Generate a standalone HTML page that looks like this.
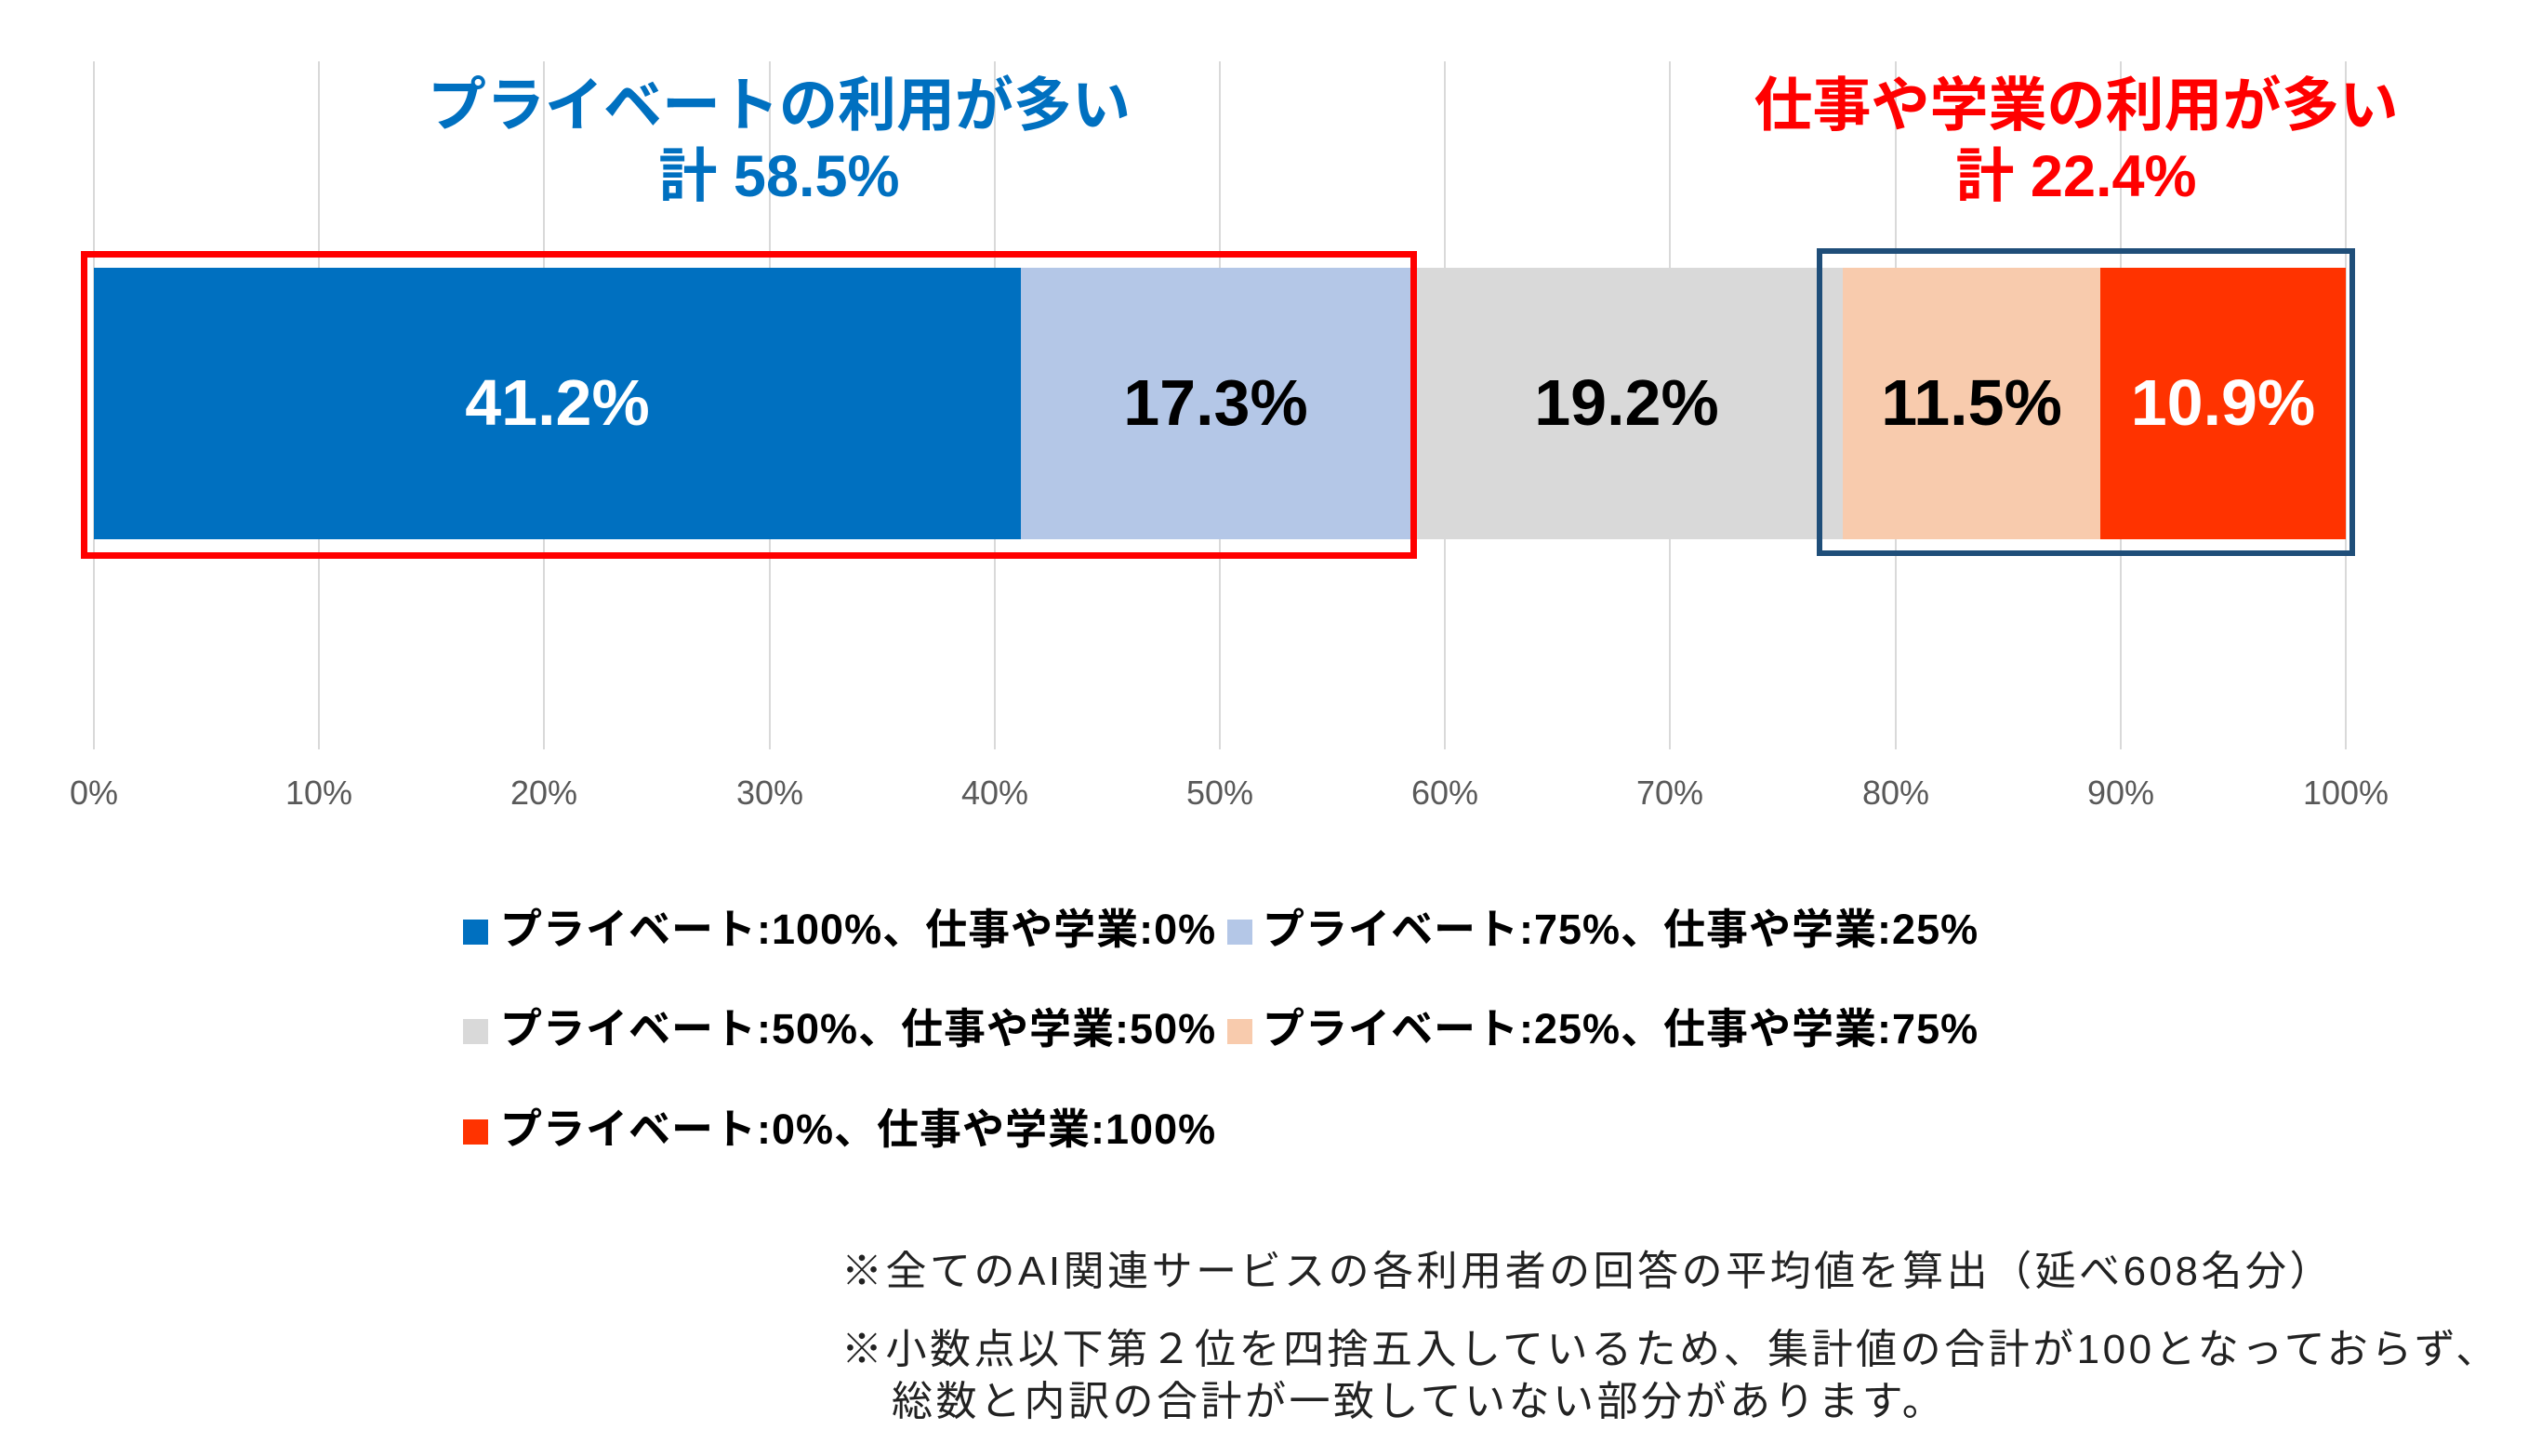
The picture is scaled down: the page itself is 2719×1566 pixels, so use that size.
<!DOCTYPE html>
<html><head><meta charset="utf-8"><style>
body{margin:0;width:2719px;height:1566px;background:#fff;position:relative;overflow:hidden;font-family:"Liberation Sans","Noto Sans CJK JP",sans-serif}
div{position:absolute}
.g{top:66px;height:740px;width:2px;background:#d9d9d9}
.t{top:832px;width:120px;margin-left:-60px;text-align:center;font-size:36px;color:#595959}
.seg{top:288px;height:292px}
.lab{top:388px;font-size:70px;font-weight:bold;text-align:center;line-height:90px}
.lg{font-size:45px;font-weight:bold;line-height:50px;white-space:nowrap;letter-spacing:1px}
.sq{width:27px;height:27px}
.fn{font-size:44px;line-height:50px;white-space:nowrap;color:#222;letter-spacing:3.5px}
</style></head><body>
<div class="g" style="left:100px"></div><div class="g" style="left:342px"></div><div class="g" style="left:584px"></div><div class="g" style="left:827px"></div><div class="g" style="left:1069px"></div><div class="g" style="left:1311px"></div><div class="g" style="left:1553px"></div><div class="g" style="left:1795px"></div><div class="g" style="left:2038px"></div><div class="g" style="left:2280px"></div><div class="g" style="left:2522px"></div>
<div class="t" style="left:101px">0%</div><div class="t" style="left:343px">10%</div><div class="t" style="left:585px">20%</div><div class="t" style="left:828px">30%</div><div class="t" style="left:1070px">40%</div><div class="t" style="left:1312px">50%</div><div class="t" style="left:1554px">60%</div><div class="t" style="left:1796px">70%</div><div class="t" style="left:2039px">80%</div><div class="t" style="left:2281px">90%</div><div class="t" style="left:2523px">100%</div>
<div class="seg" style="left:101px;width:997px;background:#0070C0"></div>
<div class="seg" style="left:1098px;width:419px;background:#B4C7E7"></div>
<div class="seg" style="left:1517px;width:465px;background:#D9D9D9"></div>
<div class="seg" style="left:1982px;width:277px;background:#F8CBAD"></div>
<div class="seg" style="left:2259px;width:264px;background:#FF3300"></div>
<div class="lab" style="left:101px;width:997px;color:#fff">41.2%</div>
<div class="lab" style="left:1098px;width:419px;color:#000">17.3%</div>
<div class="lab" style="left:1517px;width:465px;color:#000">19.2%</div>
<div class="lab" style="left:1982px;width:277px;color:#000">11.5%</div>
<div class="lab" style="left:2259px;width:264px;color:#fff">10.9%</div>
<div style="left:87px;top:270px;width:1423px;height:317px;border:7px solid #FF0000"></div>
<div style="left:1954px;top:267px;width:567px;height:319px;border:6px solid #1F4E79"></div>
<div style="left:338px;width:1000px;top:76px;text-align:center;color:#0070C0;font-size:63px;font-weight:bold;line-height:76px">プライベートの利用が多い<br>計 58.5%</div>
<div style="left:1733px;width:1000px;top:76px;text-align:center;color:#FF0000;font-size:63px;font-weight:bold;line-height:76px">仕事や学業の利用が多い<br>計 22.4%</div>
<div class="sq" style="left:498px;top:989px;background:#0070C0"></div><div class="lg" style="left:538px;top:975px">プライベート:100%、仕事や学業:0%</div>
<div class="sq" style="left:1320px;top:989px;background:#B4C7E7"></div><div class="lg" style="left:1358px;top:975px">プライベート:75%、仕事や学業:25%</div>
<div class="sq" style="left:498px;top:1096px;background:#D9D9D9"></div><div class="lg" style="left:538px;top:1082px">プライベート:50%、仕事や学業:50%</div>
<div class="sq" style="left:1320px;top:1096px;background:#F8CBAD"></div><div class="lg" style="left:1358px;top:1082px">プライベート:25%、仕事や学業:75%</div>
<div class="sq" style="left:498px;top:1204px;background:#FF3300"></div><div class="lg" style="left:538px;top:1190px">プライベート:0%、仕事や学業:100%</div>
<div class="fn" style="left:905px;top:1343px">※全てのAI関連サービスの各利用者の回答の平均値を算出（延べ608名分）</div>
<div class="fn" style="left:905px;top:1427px">※小数点以下第２位を四捨五入しているため、集計値の合計が100となっておらず、</div>
<div class="fn" style="left:959px;top:1483px">総数と内訳の合計が一致していない部分があります。</div>
</body></html>
